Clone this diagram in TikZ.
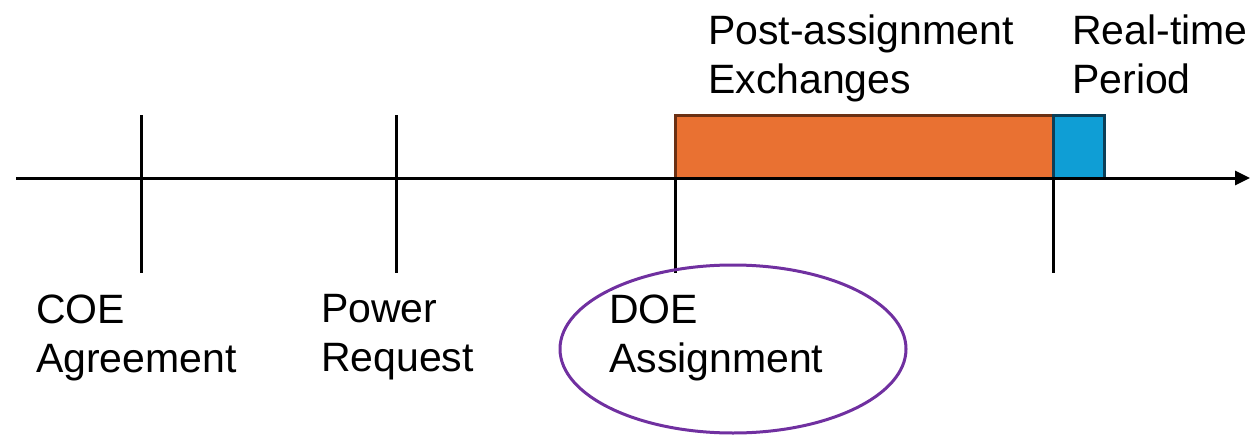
\documentclass[tikz,border=0pt]{standalone}
\usepackage{fontspec}
\setmainfont{Liberation Sans}
\usetikzlibrary{arrows.meta}
\definecolor{boxorange}{HTML}{E97132}
\definecolor{boxorangeline}{HTML}{6B3013}
\definecolor{boxblue}{HTML}{0F9ED5}
\definecolor{boxblueline}{HTML}{0C3E57}
\definecolor{ringpurple}{HTML}{7030A0}
\tikzset{
  lbl/.style={anchor=north west, inner sep=0pt, align=left, font=\fontsize{41}{49}\selectfont},
  tick/.style={line width=3pt, black},
  axisline/.style={line width=3pt, black, -{Triangle[length=15pt,width=14pt]}},
  period/.style={line width=3pt},
}
\begin{document}
\begin{tikzpicture}[x=1pt,y=-1pt]
\useasboundingbox (0,0) rectangle (1258,436);
% boxes
\draw[period, fill=boxorange, draw=boxorangeline] (675,115) rectangle (1053,178);
\draw[period, fill=boxblue, draw=boxblueline] (1053,115) rectangle (1104,178);
% axis
\coordinate (axstart) at (16,178);
\coordinate (axend) at (1250,178);
\draw[axisline] (axstart) -- (axend);
% ticks
\coordinate (t1a) at (141,115); \coordinate (t1b) at (141,273);
\coordinate (t2a) at (396,115); \coordinate (t2b) at (396,273);
\coordinate (t3a) at (675,178); \coordinate (t3b) at (675,273);
\coordinate (t4a) at (1053,178); \coordinate (t4b) at (1053,273);
\draw[tick] (t1a) -- (t1b);
\draw[tick] (t2a) -- (t2b);
\draw[tick] (t3a) -- (t3b);
\draw[tick] (t4a) -- (t4b);
% ellipse
\draw[ringpurple, line width=3pt] (733,349) ellipse [x radius=173, y radius=84];
% labels
\node[lbl] (coe) at (36,294.5) {COE\\Agreement};
\node[lbl] (pow) at (321,294.5) {Power\\Request};
\node[lbl] (doe) at (609,294.5) {DOE\\Assignment};
\node[lbl] (post) at (708,14.5) {Post-assignment\\Exchanges};
\node[lbl] (real) at (1072,14.5) {Real-time\\Period};
\end{tikzpicture}
\end{document}
